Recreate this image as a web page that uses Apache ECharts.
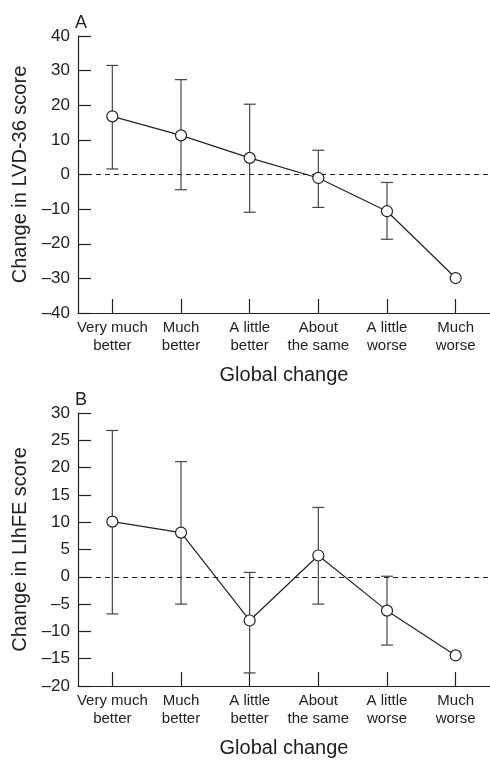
<!DOCTYPE html>
<html>
<head>
<meta charset="utf-8">
<script src="https://cdn.jsdelivr.net/npm/echarts@6/dist/echarts.min.js"></script>
<style>
  html, body { margin: 0; padding: 0; background: #fff; }
  #chart { width: 490px; height: 760px; }
</style>
</head>
<body>
<div id="chart"></div>
<script>
var categories = ['Very much\nbetter', 'Much\nbetter', 'A little\nbetter', 'About\nthe same', 'A little\nworse', 'Much\nworse'];

// panel A: change in LVD-36 score
var lvdMean = [16.8, 11.3, 4.8, -1.0, -10.6, -29.9];
var lvdLow  = [1.6, -4.4, -10.9, -9.5, -18.7, null];
var lvdHigh = [31.5, 27.4, 20.3, 7.0, -2.3, null];

// panel B: change in LIhFE score
var lhfMean = [10.1, 8.1, -8.0, 3.9, -6.2, -14.4];
var lhfLow  = [-6.8, -5.0, -17.6, -5.0, -12.5, null];
var lhfHigh = [26.8, 21.1, 0.8, 12.7, 0.1, null];

var font = 'Liberation Sans, Arial, Helvetica, sans-serif';
var ink = '#222';

function errData(low, high) {
  var out = [];
  low.forEach(function (v, i) {
    if (v !== null) out.push([i, v, high[i]]);
  });
  return out;
}

function renderErr(params, api) {
  var x = api.value(0);
  var lo = api.coord([x, api.value(1)]);
  var hi = api.coord([x, api.value(2)]);
  var cap = 6;
  var st = { stroke: '#444', lineWidth: 1.2 };
  return {
    type: 'group',
    children: [
      { type: 'line', shape: { x1: hi[0], y1: hi[1], x2: lo[0], y2: lo[1] }, style: st },
      { type: 'line', shape: { x1: hi[0] - cap, y1: hi[1], x2: hi[0] + cap, y2: hi[1] }, style: st },
      { type: 'line', shape: { x1: lo[0] - cap, y1: lo[1], x2: lo[0] + cap, y2: lo[1] }, style: st }
    ]
  };
}

function xAxisFor(idx) {
  return {
    type: 'category',
    gridIndex: idx,
    data: categories,
    boundaryGap: true,
    name: 'Global change',
    nameLocation: 'middle',
    nameGap: 52,
    nameTextStyle: { fontFamily: font, fontSize: 20, color: ink },
    axisLine: { onZero: false, lineStyle: { color: ink, width: 1.2 } },
    axisTick: { show: true, alignWithLabel: true, inside: true, length: 14, lineStyle: { color: ink, width: 1.2 } },
    axisLabel: { fontFamily: font, fontSize: 15, color: ink, margin: 6, lineHeight: 18, interval: 0 },
    splitLine: { show: false }
  };
}

function yAxisFor(idx, name, min, max, step) {
  return {
    type: 'value',
    gridIndex: idx,
    min: min,
    max: max,
    interval: step,
    name: name,
    nameLocation: 'middle',
    nameGap: 44,
    nameTextStyle: { fontFamily: font, fontSize: 20, color: ink },
    axisLine: { show: true, lineStyle: { color: ink, width: 1.2 } },
    axisTick: { show: true, inside: true, length: 13, lineStyle: { color: ink, width: 1.2 } },
    axisLabel: {
      fontFamily: font, fontSize: 17, color: ink, margin: 8,
      formatter: function (v) { return v < 0 ? '\u2013' + Math.abs(v) : String(v); }
    },
    splitLine: { show: false }
  };
}

function lineSeries(idx, data) {
  return {
    type: 'line',
    xAxisIndex: idx,
    yAxisIndex: idx,
    data: data,
    symbol: 'circle',
    symbolSize: 11,
    z: 5,
    lineStyle: { color: ink, width: 1.2 },
    itemStyle: { color: '#fff', borderColor: ink, borderWidth: 1.2 },
    markLine: {
      silent: true,
      symbol: ['none', 'none'],
      label: { show: false },
      lineStyle: { color: ink, type: [5, 4], width: 1.2 },
      data: [{ yAxis: 0 }]
    }
  };
}

function errSeries(idx, low, high) {
  return {
    type: 'custom',
    xAxisIndex: idx,
    yAxisIndex: idx,
    data: errData(low, high),
    renderItem: renderErr,
    z: 2
  };
}

var chart = echarts.init(document.getElementById('chart'));
chart.setOption({
  backgroundColor: '#fff',
  animation: false,
  title: [
    { text: 'A', left: 75, top: 14, padding: 0, textStyle: { fontFamily: font, fontSize: 18, fontWeight: 'normal', color: ink } },
    { text: 'B', left: 75, top: 391, padding: 0, textStyle: { fontFamily: font, fontSize: 18, fontWeight: 'normal', color: ink } }
  ],
  grid: [
    { left: 78, top: 36, width: 416, height: 277 },
    { left: 78, top: 413, width: 416, height: 273 }
  ],
  xAxis: [xAxisFor(0), xAxisFor(1)],
  yAxis: [
    yAxisFor(0, 'Change in LVD-36 score', -40, 40, 10),
    yAxisFor(1, 'Change in LIhFE score', -20, 30, 5)
  ],
  series: [
    errSeries(0, lvdLow, lvdHigh),
    lineSeries(0, lvdMean),
    errSeries(1, lhfLow, lhfHigh),
    lineSeries(1, lhfMean)
  ]
});
</script>
</body>
</html>
